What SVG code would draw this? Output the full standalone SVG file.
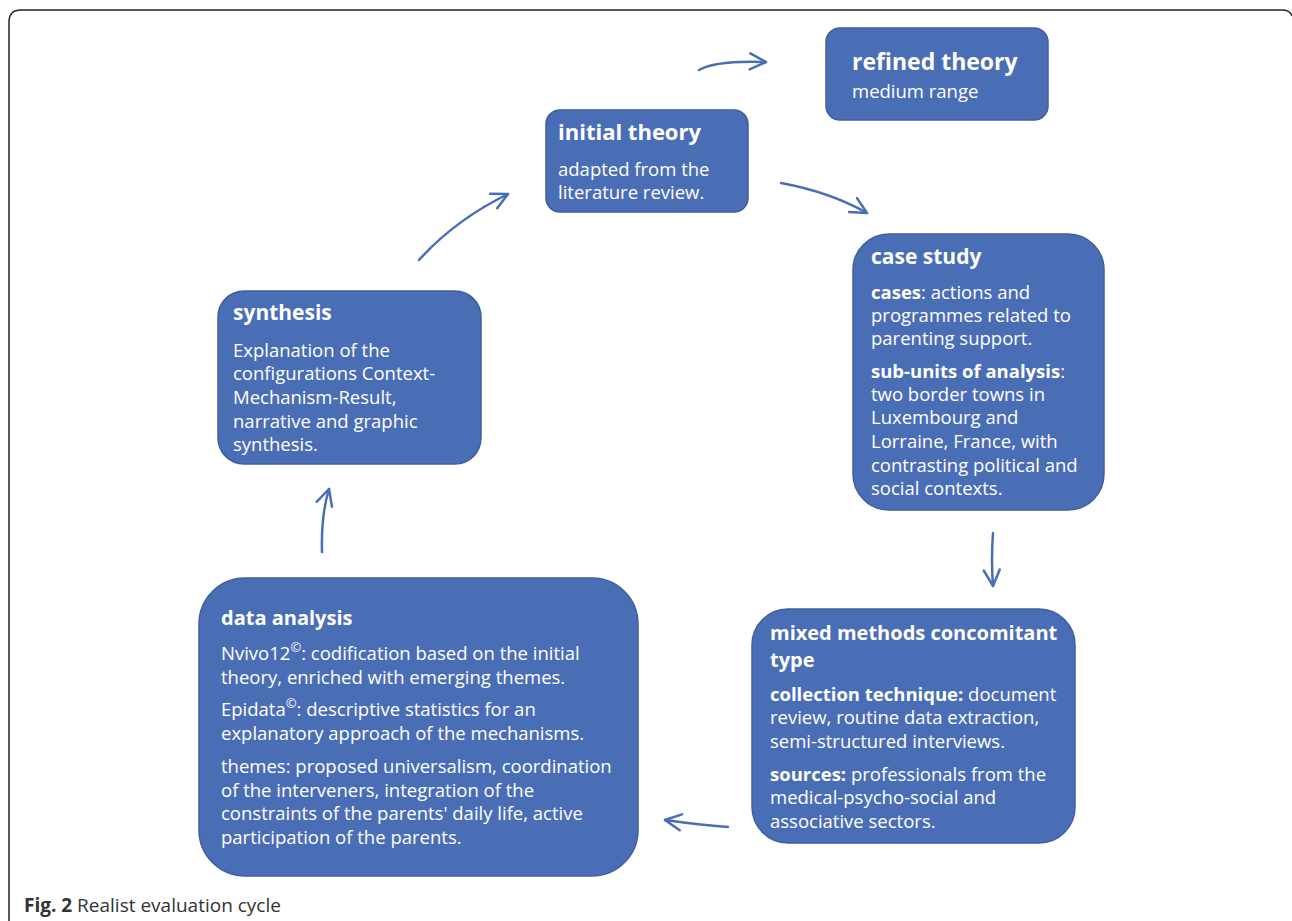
<svg xmlns="http://www.w3.org/2000/svg" width="1292" height="921" viewBox="0 0 1292 921">
<defs>
<style>
.box{fill:#4a6eb5;stroke:#3e5f9e;stroke-width:1.5}
.t{font-family:"Open Sans","Noto Sans","Liberation Sans",sans-serif;fill:#ffffff;font-size:18.5px}
.h{font-weight:bold;font-size:21px}
.b{font-weight:bold}
.sup{font-style:italic;font-size:13px}
.con{fill:none;stroke:#4a6eb5;stroke-width:2.5;stroke-linecap:round}
.cap{font-family:"Open Sans","Noto Sans","Liberation Sans",sans-serif;fill:#333333;font-size:19px}
</style>
<marker id="ah" viewBox="0 0 20 20" refX="18" refY="10" markerWidth="20" markerHeight="20" markerUnits="userSpaceOnUse" orient="auto">
<path d="M2,2 L18,10 L2,18" fill="none" stroke="#4a6eb5" stroke-width="2.5" stroke-linecap="round" stroke-linejoin="round"/>
</marker>
</defs>
<rect width="1292" height="921" fill="#ffffff"/>
<path d="M9,921 V22 Q9,10 21,10 H1282 Q1290,10 1292,16" fill="none" stroke="#222222" stroke-width="1.5"/>

<g id="connectors">
<path class="con" d="M699,70 Q716,60 766,62" marker-end="url(#ah)"/>
<path class="con" d="M781,183 Q830,192 867,213" marker-end="url(#ah)"/>
<path class="con" d="M993,533 Q991,560 993,586" marker-end="url(#ah)"/>
<path class="con" d="M728,827 Q700,825 665,820" marker-end="url(#ah)"/>
<path class="con" d="M322,552 Q321,515 329,489" marker-end="url(#ah)"/>
<path class="con" d="M419,260 Q455,220 508,194" marker-end="url(#ah)"/>
</g>

<g id="refined-theory">
<rect class="box" x="826" y="28" width="222" height="92" rx="14"/>
<text class="t h" x="852" y="70" style="font-size:23px">refined theory</text>
<text class="t" x="852" y="98">medium range</text>
</g>

<g id="initial-theory">
<rect class="box" x="546" y="110" width="202" height="102" rx="14"/>
<text class="t h" x="558" y="140" style="font-size:22px">initial theory</text>
<text class="t" x="558" y="176">adapted from the</text>
<text class="t" x="558" y="199">literature review.</text>
</g>

<g id="case-study">
<rect class="box" x="853" y="234" width="251" height="276" rx="36"/>
<text class="t h" x="871" y="264">case study</text>
<text class="t" x="871" y="299"><tspan class="b">cases</tspan>: actions and</text>
<text class="t" x="871" y="322">programmes related to</text>
<text class="t" x="871" y="345">parenting support.</text>
<text class="t" x="871" y="378"><tspan class="b">sub-units of analysis</tspan>:</text>
<text class="t" x="871" y="401">two border towns in</text>
<text class="t" x="871" y="424">Luxembourg and</text>
<text class="t" x="871" y="448">Lorraine, France, with</text>
<text class="t" x="871" y="472">contrasting political and</text>
<text class="t" x="871" y="495">social contexts.</text>
</g>

<g id="mixed-methods">
<rect class="box" x="752" y="609" width="323" height="234" rx="36"/>
<text class="t h" x="770" y="640" style="font-size:20px">mixed methods concomitant</text>
<text class="t h" x="770" y="667" style="font-size:20px">type</text>
<text class="t" x="770" y="701"><tspan class="b">collection technique:</tspan> document</text>
<text class="t" x="770" y="724">review, routine data extraction,</text>
<text class="t" x="770" y="748">semi-structured interviews.</text>
<text class="t" x="770" y="781"><tspan class="b">sources:</tspan> professionals from the</text>
<text class="t" x="770" y="804">medical-psycho-social and</text>
<text class="t" x="770" y="828">associative sectors.</text>
</g>

<g id="data-analysis">
<rect class="box" x="199" y="578" width="439" height="298" rx="46"/>
<text class="t h" x="221" y="625" style="font-size:20px">data analysis</text>
<text class="t" x="221" y="660">Nvivo12<tspan class="sup" dy="-8">©</tspan><tspan dy="8">: codification based on the initial</tspan></text>
<text class="t" x="221" y="684">theory, enriched with emerging themes.</text>
<text class="t" x="221" y="716">Epidata<tspan class="sup" dy="-8">©</tspan><tspan dy="8">: descriptive statistics for an</tspan></text>
<text class="t" x="221" y="740">explanatory approach of the mechanisms.</text>
<text class="t" x="221" y="773">themes: proposed universalism, coordination</text>
<text class="t" x="221" y="797">of the interveners, integration of the</text>
<text class="t" x="221" y="820">constraints of the parents' daily life, active</text>
<text class="t" x="221" y="844">participation of the parents.</text>
</g>

<g id="synthesis">
<rect class="box" x="218" y="291" width="263" height="173" rx="26"/>
<text class="t h" x="233" y="320">synthesis</text>
<text class="t" x="233" y="357">Explanation of the</text>
<text class="t" x="233" y="380">configurations Context-</text>
<text class="t" x="233" y="404">Mechanism-Result,</text>
<text class="t" x="233" y="428">narrative and graphic</text>
<text class="t" x="233" y="451">synthesis.</text>
</g>

<g id="caption">
<text class="cap" x="24" y="912"><tspan font-weight="bold">Fig. 2</tspan> Realist evaluation cycle</text>
</g>
</svg>
